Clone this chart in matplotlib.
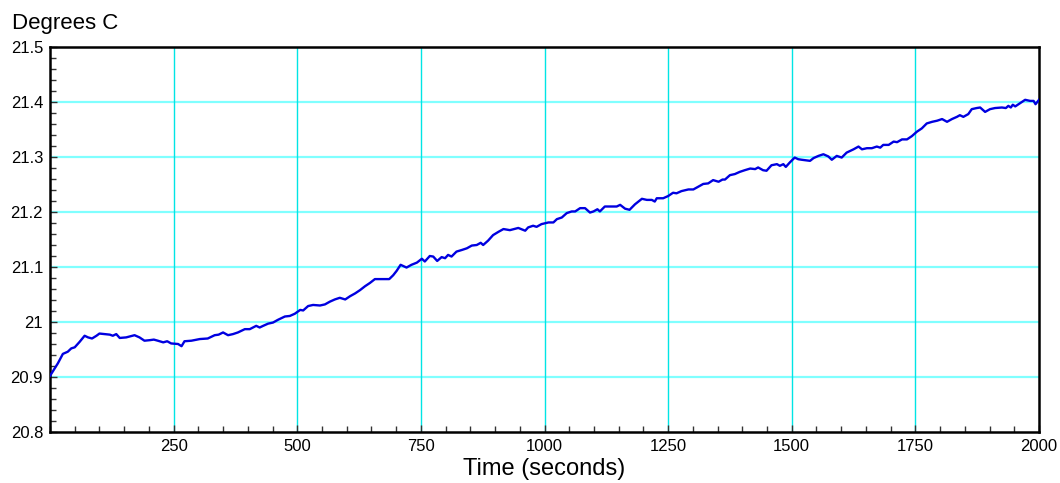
import matplotlib
matplotlib.use("Agg")
import matplotlib.pyplot as plt
from matplotlib.ticker import MultipleLocator, FuncFormatter

# Temperature log
time_s = [0, 16, 26, 36, 43, 50, 60, 70, 77, 85, 94, 100, 111, 121, 127, 134, 141, 154,
          171, 181, 191, 202, 210, 218, 229, 237, 245, 259, 266, 272, 286, 303, 319, 333,
          341, 350, 360, 370, 380, 394, 404, 417, 424, 431, 441, 451, 461, 475, 485, 495,
          506, 512, 522, 532, 546, 556, 566, 576, 586, 597, 607, 617, 627, 637, 647, 657,
          667, 677, 686, 694, 701, 709, 721, 731, 742, 752, 758, 768, 775, 783, 792, 799,
          805, 812, 822, 833, 843, 853, 863, 871, 876, 886, 896, 907, 917, 930, 947, 961,
          967, 977, 984, 994, 1008, 1018, 1025, 1035, 1045, 1055, 1062, 1072, 1082, 1092,
          1099, 1107, 1112, 1122, 1136, 1146, 1153, 1163, 1172, 1183, 1197, 1207, 1217,
          1223, 1227, 1240, 1250, 1260, 1267, 1277, 1291, 1301, 1311, 1321, 1331, 1341,
          1352, 1360, 1365, 1375, 1385, 1395, 1405, 1416, 1426, 1432, 1442, 1449, 1459,
          1470, 1476, 1483, 1488, 1496, 1506, 1513, 1520, 1537, 1544, 1554, 1564, 1574,
          1581, 1591, 1601, 1611, 1625, 1635, 1642, 1652, 1662, 1672, 1679, 1685, 1696,
          1706, 1713, 1723, 1733, 1743, 1753, 1763, 1773, 1784, 1794, 1804, 1814, 1824,
          1834, 1840, 1847, 1857, 1864, 1874, 1881, 1891, 1901, 1911, 1925, 1933, 1938,
          1943, 1947, 1952, 1962, 1972, 1982, 1989, 1993, 2000]
temp_c = [20.902, 20.925, 20.942, 20.946, 20.952, 20.954, 20.964, 20.975, 20.972, 20.970,
          20.975, 20.979, 20.978, 20.977, 20.975, 20.978, 20.971, 20.972, 20.976, 20.972,
          20.966, 20.967, 20.968, 20.966, 20.963, 20.965, 20.961, 20.960, 20.956, 20.965,
          20.966, 20.969, 20.970, 20.976, 20.977, 20.981, 20.976, 20.978, 20.981, 20.987,
          20.987, 20.993, 20.990, 20.993, 20.997, 20.999, 21.004, 21.010, 21.011, 21.015,
          21.022, 21.021, 21.029, 21.031, 21.030, 21.032, 21.037, 21.041, 21.044, 21.041,
          21.047, 21.052, 21.058, 21.065, 21.071, 21.078, 21.078, 21.078, 21.078, 21.085,
          21.093, 21.104, 21.099, 21.104, 21.108, 21.115, 21.110, 21.120, 21.119, 21.111,
          21.118, 21.116, 21.122, 21.119, 21.128, 21.131, 21.134, 21.139, 21.140, 21.144,
          21.140, 21.148, 21.158, 21.164, 21.169, 21.167, 21.171, 21.166, 21.172, 21.175,
          21.173, 21.178, 21.181, 21.181, 21.187, 21.190, 21.198, 21.201, 21.201, 21.207,
          21.207, 21.199, 21.201, 21.205, 21.201, 21.210, 21.210, 21.210, 21.213, 21.206,
          21.204, 21.214, 21.224, 21.222, 21.222, 21.219, 21.225, 21.225, 21.229, 21.235,
          21.234, 21.238, 21.241, 21.241, 21.246, 21.251, 21.252, 21.258, 21.255, 21.259,
          21.259, 21.267, 21.269, 21.273, 21.276, 21.279, 21.278, 21.281, 21.276, 21.275,
          21.285, 21.287, 21.284, 21.287, 21.282, 21.290, 21.299, 21.296, 21.295, 21.293,
          21.298, 21.302, 21.305, 21.301, 21.295, 21.302, 21.299, 21.308, 21.314, 21.319,
          21.314, 21.316, 21.316, 21.319, 21.317, 21.322, 21.322, 21.328, 21.327, 21.332,
          21.332, 21.338, 21.346, 21.352, 21.361, 21.364, 21.366, 21.369, 21.364, 21.369,
          21.373, 21.376, 21.373, 21.378, 21.387, 21.389, 21.390, 21.382, 21.387, 21.389,
          21.390, 21.389, 21.393, 21.390, 21.395, 21.392, 21.398, 21.404, 21.402, 21.402,
          21.396, 21.404]

x_ticks = [250, 500, 750, 1000, 1250, 1500, 1750, 2000]
y_ticks = [20.8, 20.9, 21.0, 21.1, 21.2, 21.3, 21.4, 21.5]

plt.rcParams['font.family'] = ['Liberation Sans', 'DejaVu Sans']

fig = plt.figure(figsize=(10.6, 4.83), dpi=100)
ax = fig.add_axes([50 / 1060, 1 - 432 / 483, 989 / 1060, 385 / 483])

# grid
for yv in y_ticks[1:-1]:
    ax.axhline(yv, color='#80ffff', lw=1.6, zorder=1)
for xv in x_ticks[:-1]:
    ax.axvline(xv, color='#00e5e5', lw=1.0, zorder=1)

ax.plot(time_s, temp_c, color='#0000e0', lw=1.7, zorder=3)

ax.set_xlim(0, 2000)
ax.set_ylim(20.8, 21.5)
ax.set_xticks(x_ticks)
ax.set_yticks(y_ticks)
ax.xaxis.set_minor_locator(MultipleLocator(50))
ax.yaxis.set_minor_locator(MultipleLocator(0.02))
ax.yaxis.set_major_formatter(FuncFormatter(lambda v, p: f"{v:g}"))
ax.tick_params(which='both', direction='in', width=1, color='#333333', labelsize=12)
ax.tick_params(which='major', length=5)
ax.tick_params(which='minor', length=4)
ax.tick_params(axis='x', pad=5)
ax.tick_params(axis='y', pad=5)
for s in ax.spines.values():
    s.set_linewidth(1.8)

fig.text(12 / 1060, 1 - 24 / 483, "Degrees C", fontsize=16, va='center', ha='left')
ax.set_xlabel("Time (seconds)", fontsize=17, labelpad=3)

fig.savefig("out.png", dpi=100)
